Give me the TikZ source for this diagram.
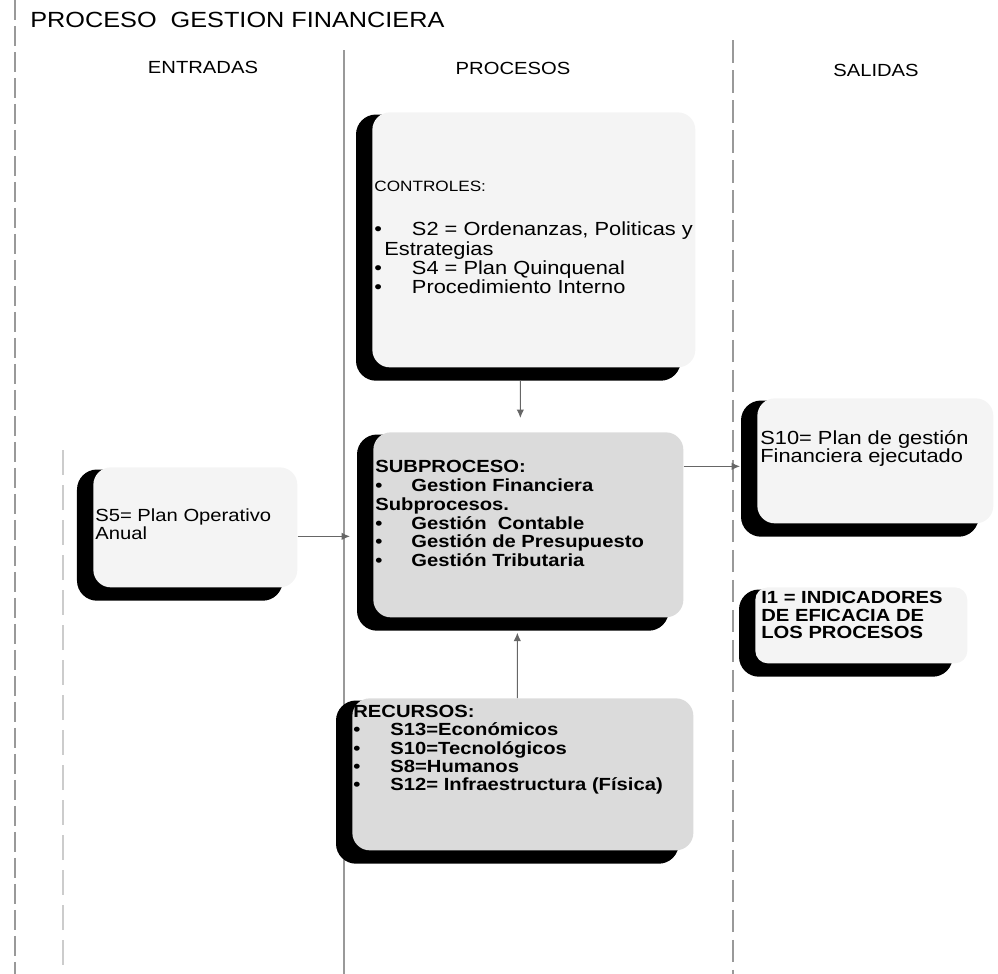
\documentclass[tikz,border=0pt]{standalone}
\usepackage{fontspec}
\setmainfont[FakeStretch=1.15]{Liberation Sans}
\usetikzlibrary{arrows.meta,positioning,calc,backgrounds}

\begin{document}
\begin{tikzpicture}[>={Latex[length=0.17cm,width=0.15cm]},
    every node/.style={inner sep=0pt},
    caja/.style={rounded corners=0.35cm, anchor=north west, fill=gray!9},
    cajaosc/.style={caja, fill=gray!28},
    sombra/.style={fill=black, rounded corners=0.4cm},
    texto/.style={anchor=north west, align=left},
    flecha/.style={->, line width=0.6pt, draw=black!60},
    columna/.style={line width=0.6pt, draw=black!40}]
    \useasboundingbox (0,0) rectangle (19.96,-19.48);

    % Title and headers
    \node[anchor=west, font=\fontsize{12.5}{14}\selectfont] (titulo) at (0.6,-0.4) {PROCESO\ \ GESTION FINANCIERA};
    \node[font=\fontsize{10}{12}\selectfont] (entradas) at (4.06,-1.34) {ENTRADAS};
    \node[font=\fontsize{10}{12}\selectfont] (procesos) at (10.26,-1.36) {PROCESOS};
    \node[font=\fontsize{10}{12}\selectfont] (salidas) at (17.52,-1.4) {SALIDAS};

    % Boxes
    \node[caja, minimum width=6.46cm, minimum height=5.1cm] (ctrl) at (7.44,-2.24) {};
    \node[cajaosc, minimum width=6.2cm, minimum height=3.7cm] (sub) at (7.46,-8.64) {};
    \node[caja, minimum width=4.08cm, minimum height=2.4cm] (s5) at (1.86,-9.34) {};
    \node[caja, minimum width=4.72cm, minimum height=2.5cm] (s10) at (15.14,-7.96) {};
    \node[caja, rounded corners=0.25cm, minimum width=4.24cm, minimum height=1.52cm] (ind) at (15.1,-11.74) {};
    \node[cajaosc, minimum width=6.82cm, minimum height=3.04cm] (rec) at (7.04,-13.96) {};

    \begin{scope}[on background layer]
        % Column separators
        \draw[columna, dash pattern=on 0.4cm off 0.12cm] (0.3,0) -- (0.3,-19.48);
        \draw[columna, draw=black!20, dash pattern=on 0.5cm off 0.2cm] (1.26,-9.0) -- (1.26,-19.48);
        \draw[columna] (6.88,-1.0) -- (6.88,-19.48);
        \draw[columna, dash pattern=on 0.45cm off 0.15cm] (14.66,-0.8) -- (14.66,-19.48);
        % Shadows
        \foreach \c in {ctrl,sub,s5,s10,ind,rec}
            \fill[sombra] ([xshift=-0.32cm,yshift=-0.05cm]\c.north west) rectangle ([xshift=-0.3cm,yshift=-0.26cm]\c.south east);
    \end{scope}

    % Box texts
    \node[texto, font=\fontsize{10.8}{9.45}\selectfont] (ctrltx) at (7.48,-3.62)
        {{\fontsize{8.5}{9.45}\selectfont CONTROLES:}\\[15.5pt]
        \textbullet\hspace*{0.6cm}S2 = Ordenanzas, Politicas y\\
        \hspace*{0.2cm}Estrategias\\
        \textbullet\hspace*{0.6cm}S4 = Plan Quinquenal\\
        \textbullet\hspace*{0.6cm}Procedimiento Interno};
    \node[texto, font=\bfseries\fontsize{10}{10.7}\selectfont] (subtx) at (7.5,-9.2)
        {SUBPROCESO:\\
        \textbullet\hspace*{0.58cm}Gestion Financiera\\
        Subprocesos.\\
        \textbullet\hspace*{0.58cm}Gestión\ \ Contable\\
        \textbullet\hspace*{0.58cm}Gestión de Presupuesto\\
        \textbullet\hspace*{0.58cm}Gestión Tributaria};
    \node[texto, font=\fontsize{10}{10.2}\selectfont] (s5tx) at (1.9,-10.16)
        {S5= Plan Operativo\\Anual};
    \node[texto, font=\fontsize{10.8}{10.2}\selectfont] (s10tx) at (15.2,-8.6)
        {S10= Plan de gestión\\Financiera ejecutado};
    \node[texto, font=\bfseries\fontsize{10}{9.9}\selectfont] (indtx) at (15.22,-11.82)
        {I1 = INDICADORES\\DE EFICACIA DE\\LOS PROCESOS};
    \node[texto, font=\bfseries\fontsize{10}{10.4}\selectfont] (rectx) at (7.06,-14.1)
        {RECURSOS:\\
        \textbullet\hspace*{0.6cm}S13=Económicos\\
        \textbullet\hspace*{0.6cm}S10=Tecnológicos\\
        \textbullet\hspace*{0.6cm}S8=Humanos\\
        \textbullet\hspace*{0.6cm}S12= Infraestructura (Física)};

    % Connectors
    \draw[flecha] ([xshift=-0.27cm,yshift=-0.26cm]ctrl.south) -- ([xshift=-0.16cm,yshift=0.28cm]sub.north);
    \draw[flecha] ([xshift=-0.11cm]rec.north) -- ([xshift=-0.22cm,yshift=-0.3cm]sub.south);
    \coordinate (e5) at ([yshift=-0.18cm]s5.east);
    \draw[flecha, shorten >=0.46cm] (e5) -- (e5 -| sub.west);
    \coordinate (e10) at ([yshift=-0.11cm]s10.west);
    \draw[flecha, shorten >=0.34cm] (e10 -| sub.east) -- (e10);
\end{tikzpicture}
\end{document}
